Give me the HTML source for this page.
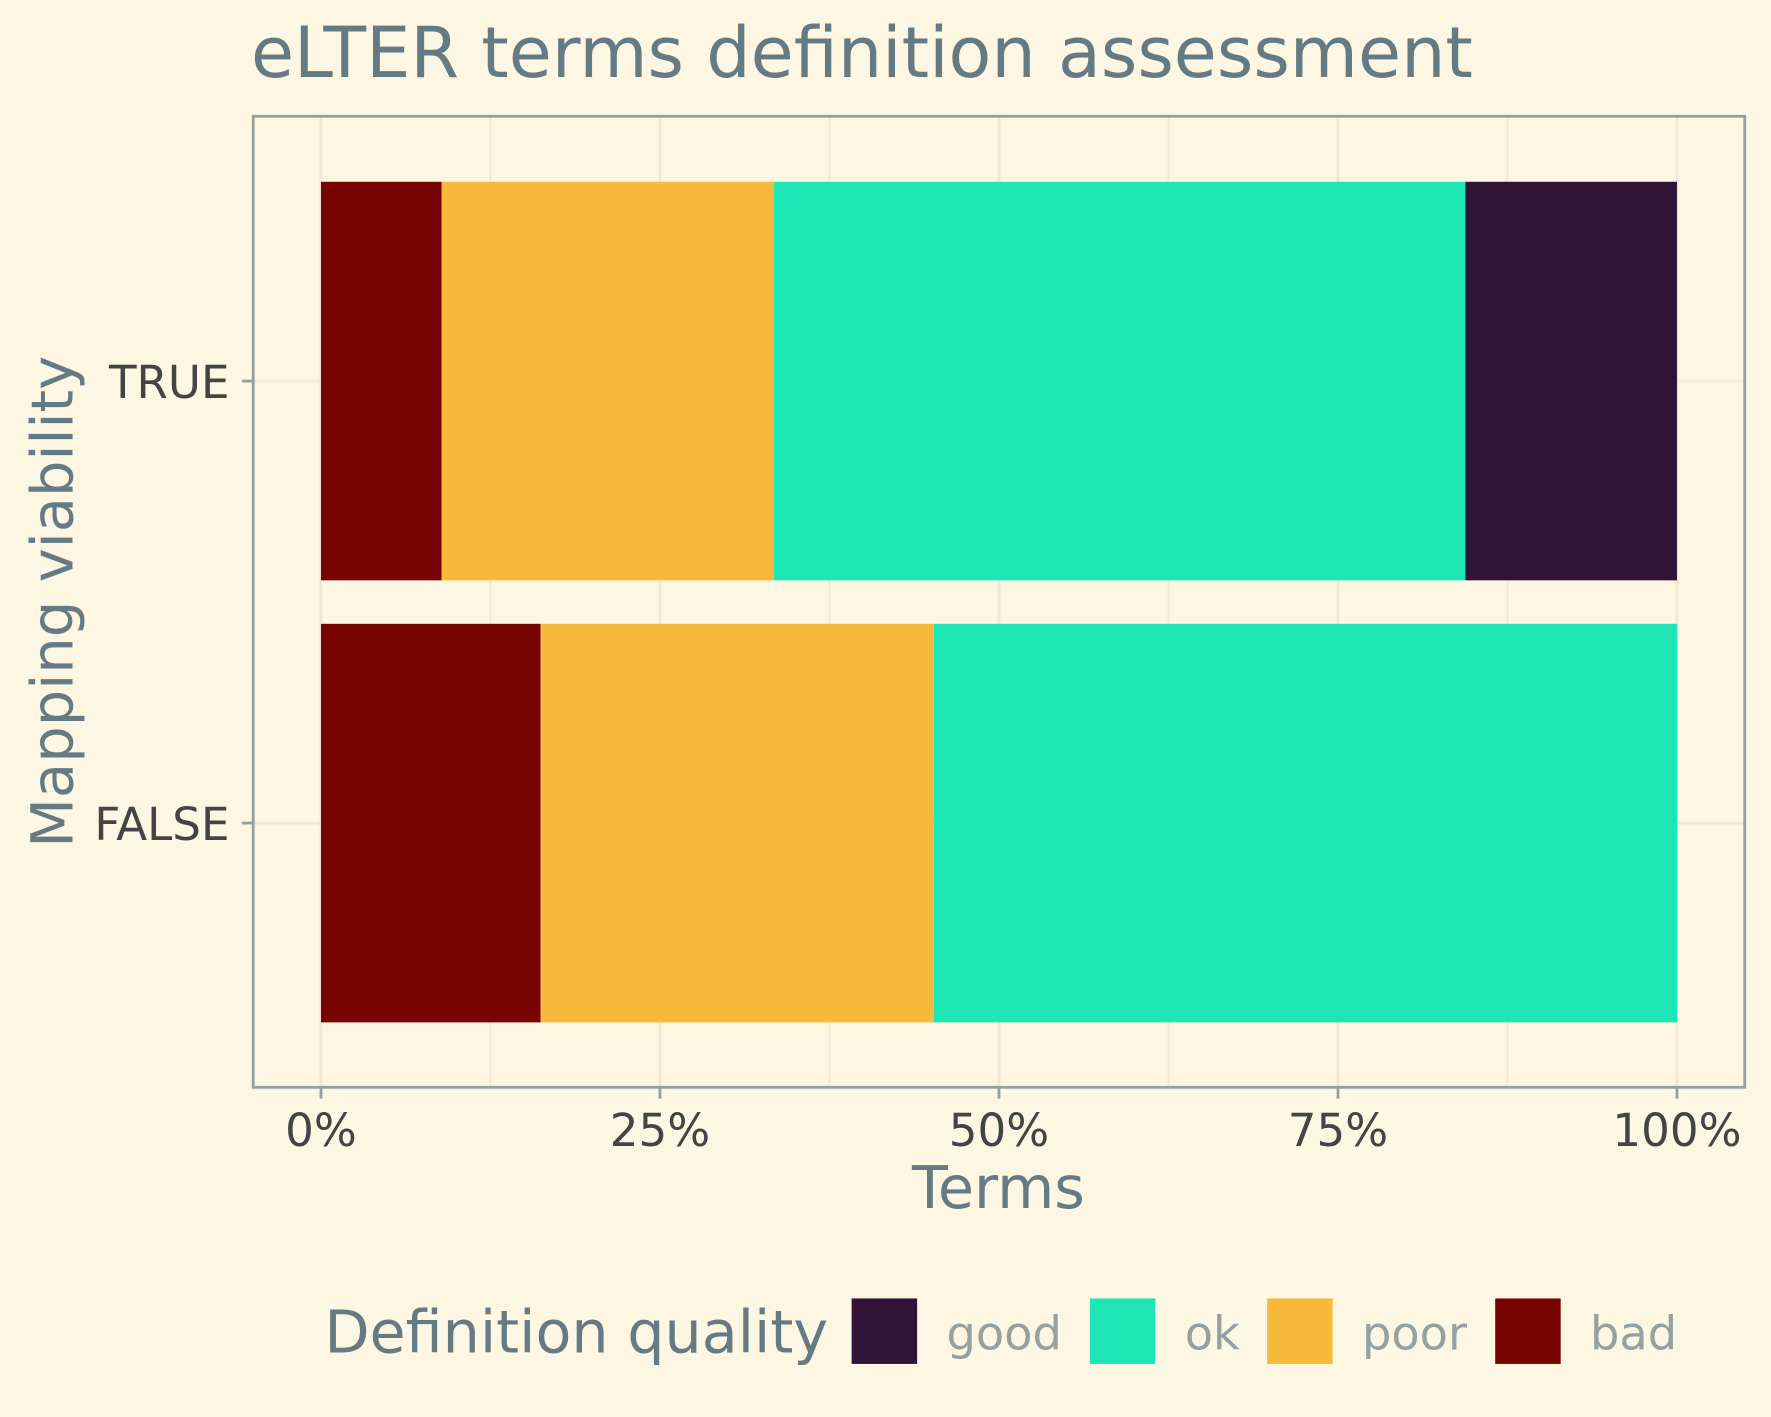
<!DOCTYPE html>
<html><head><meta charset="utf-8"><style>
html,body{margin:0;padding:0;background:#fdf6e3;}
svg{display:block;font-family:"DejaVu Sans","Liberation Sans",sans-serif;}
</style></head><body>
<svg id="chart" width="1771" height="1417" viewBox="0 0 1568 1255" xmlns="http://www.w3.org/2000/svg">
<rect width="1568" height="1255" fill="#fdf6e3"/>
<text x="222" y="68" font-size="62" fill="#657b83">eLTER terms definition assessment</text>
<g id="grid"></g>
<g id="bars"></g>
<rect x="224" y="103" width="1321" height="860" fill="none" stroke="#93a1a1" stroke-width="2.5"/>
<g id="axes"></g>
<text x="884" y="1070" font-size="52" fill="#657b83" text-anchor="middle">Terms</text>
<text transform="translate(64,533) rotate(-90)" font-size="51" fill="#657b83" text-anchor="middle">Mapping viability</text>
<g id="legend"></g>
</svg>
<script>
const categories = ["TRUE", "FALSE"];
const seriesNames = ["bad", "poor", "ok", "good"];
const badVals = [8.9, 16.2];
const poorVals = [24.5, 29.0];
const okVals = [51.0, 54.8];
const goodVals = [15.6, 0];
const xTicks = [0, 25, 50, 75, 100];
const xTickLabels = ["0%", "25%", "50%", "75%", "100%"];
const colors = {good:"#311337", ok:"#1de5b5", poor:"#f9b93b", bad:"#780303"};
const NS = "http://www.w3.org/2000/svg";
const x = v => 284 + (1485 - 284) * v / 100;
const yCenter = i => 337.5 + i * 391.5;
const bandH = 353;
function mk(tag, attrs, parent){const e=document.createElementNS(NS,tag);for(const k in attrs)e.setAttribute(k,attrs[k]);document.getElementById(parent).appendChild(e);return e;}
for (let t = 0; t <= 100; t += 12.5) {
  const major = t % 25 === 0;
  const g = mk("line",{x1:x(t),x2:x(t),y1:103,y2:963,stroke:"#eee8d5","stroke-width":major?2.5:1.5},"grid");
  
  
}
categories.forEach((c,i)=>{
  const g = mk("line",{x1:224,x2:1545,y1:yCenter(i),y2:yCenter(i),stroke:"#eee8d5","stroke-width":2.5},"grid");
  
  
});
const vals = {bad:badVals, poor:poorVals, ok:okVals, good:goodVals};
categories.forEach((c,i)=>{
  let acc = 0;
  seriesNames.forEach(s=>{
    const v = vals[s][i];
    if (v > 0) {
      const r = mk("rect",{x:x(acc),y:yCenter(i)-bandH/2,width:x(acc+v)-x(acc),height:bandH,fill:colors[s]},"bars");
      
      
    }
    acc += v;
  });
});
xTicks.forEach((t,i)=>{
  const l = mk("line",{x1:x(t),x2:x(t),y1:963,y2:973,stroke:"#93a1a1","stroke-width":2.5},"axes");
  
  
  const tx = mk("text",{x:x(t),y:1015,"font-size":40,fill:"#444444","text-anchor":"middle"},"axes");
  tx.textContent = xTickLabels[i];
  
  
});
categories.forEach((c,i)=>{
  const l = mk("line",{x1:214,x2:224,y1:yCenter(i),y2:yCenter(i),stroke:"#93a1a1","stroke-width":2.5},"axes");
  
  
  const tx = mk("text",{x:203,y:yCenter(i)+15,"font-size":40,fill:"#444444","text-anchor":"end"},"axes");
  tx.textContent = c;
  
  
});
const lt = mk("text",{x:287,y:1198,"font-size":52,fill:"#657b83"},"legend");
lt.textContent = "Definition quality";


const legendOrder = ["good","ok","poor","bad"];
const keyX = [754, 965, 1122, 1324];
legendOrder.forEach((s,i)=>{
  const k = mk("rect",{x:keyX[i],y:1150,width:58,height:58,fill:colors[s]},"legend");
  
  
  const t = mk("text",{x:keyX[i]+84,y:1195,"font-size":41,fill:"#93a1a1"},"legend");
  t.textContent = s;
  
  
});
</script>
</body></html>
